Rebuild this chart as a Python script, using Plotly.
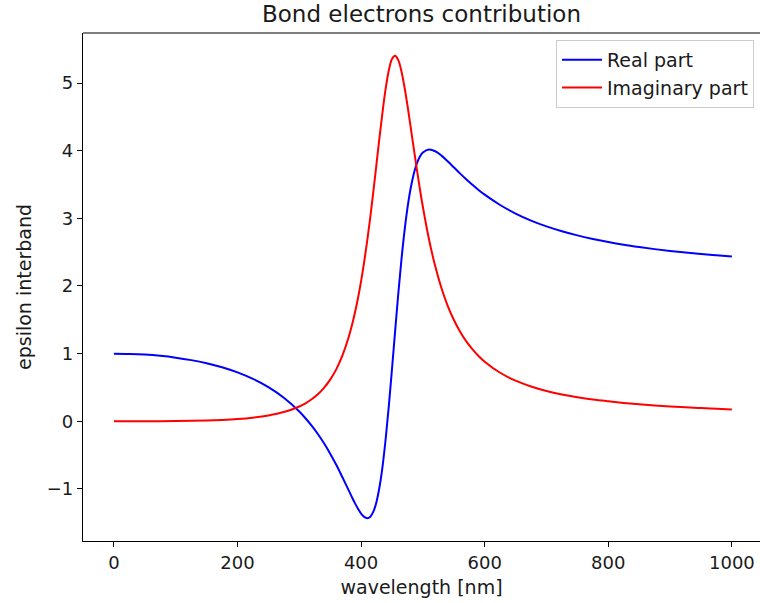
import plotly.graph_objects as go

# wavelength samples [nm]
wavelength = [0, 25, 50, 75, 100, 125, 150, 175, 200, 225, 250, 275, 300,
              310, 320, 330, 340, 350, 360, 370, 380, 385, 390, 395, 400, 405, 410,
              415, 420, 425, 430, 435, 440, 445, 450, 455, 460, 465, 470, 475, 480,
              485, 490, 495, 500, 510, 520, 530, 540, 550, 560, 570, 580, 590, 600,
              625, 650, 675, 700, 725, 750, 775, 800, 825, 850, 875, 900, 925, 950,
              975, 1000]

real_part = [1.0, 0.996, 0.986, 0.967, 0.940, 0.904, 0.858, 0.798, 0.722, 0.626, 0.504,
             0.347, 0.144,
             0.045, -0.065, -0.188, -0.326, -0.479, -0.647, -0.832, -1.022, -1.118,
             -1.210, -1.293, -1.364, -1.413, -1.432,
             -1.410, -1.333, -1.188, -0.961, -0.647, -0.240, 0.239, 0.773, 1.326,
             1.867, 2.361, 2.794, 3.150, 3.433,
             3.648, 3.804, 3.909, 3.974, 4.019, 3.992, 3.927, 3.844, 3.755, 3.665,
             3.579, 3.498, 3.420, 3.350,
             3.197, 3.071, 2.967, 2.881, 2.809, 2.748, 2.696, 2.650, 2.610, 2.576,
             2.545, 2.518, 2.494, 2.472, 2.453, 2.435]

imag_part = [0.0, 0.0, 0.0004, 0.0012, 0.003, 0.006, 0.011, 0.020, 0.033, 0.053, 0.085,
             0.136, 0.219,
             0.266, 0.325, 0.399, 0.494, 0.615, 0.771, 0.977, 1.246, 1.413, 1.604,
             1.822, 2.072, 2.356, 2.674,
             3.027, 3.409, 3.810, 4.213, 4.594, 4.932, 5.193, 5.355, 5.403, 5.343,
             5.186, 4.952, 4.672, 4.363,
             4.048, 3.739, 3.443, 3.167, 2.684, 2.291, 1.971, 1.711, 1.501, 1.328,
             1.185, 1.067, 0.966, 0.881,
             0.717, 0.600, 0.514, 0.448, 0.397, 0.356, 0.322, 0.295, 0.271, 0.251,
             0.234, 0.219, 0.206, 0.195, 0.185, 0.175]

x_ticks = [0, 200, 400, 600, 800, 1000]
y_ticks = [-1, 0, 1, 2, 3, 4, 5]

FONT = "DejaVu Sans"

fig = go.Figure()
fig.add_trace(go.Scatter(x=wavelength, y=real_part, mode="lines", name="Real part",
                         line=dict(color="#0000ff", width=2, shape="spline", smoothing=1)))
fig.add_trace(go.Scatter(x=wavelength, y=imag_part, mode="lines", name="Imaginary part",
                         line=dict(color="#ff0000", width=2, shape="spline", smoothing=1)))

axis_common = dict(
    showgrid=False, zeroline=False, showline=True, linecolor="black", linewidth=1.2,
    ticks="outside", ticklen=5, tickwidth=1.2, tickcolor="black",
    tickfont=dict(family=FONT, size=18, color="#1a1a1a"), mirror=False,
)

fig.update_layout(
    width=760, height=603,
    margin=dict(l=83, r=0, t=33, b=62),
    paper_bgcolor="white", plot_bgcolor="white",
    title=dict(text="Bond electrons contribution", x=0.5, xref="paper", xanchor="center",
               y=1 - 14 / 603, yanchor="middle",
               font=dict(family=FONT, size=23, color="#1a1a1a")),
    xaxis=dict(range=[-50, 1045.5], tickvals=x_ticks,
               title=dict(text="wavelength [nm]", font=dict(family=FONT, size=19, color="#1a1a1a"),
                          standoff=8),
               **axis_common),
    yaxis=dict(range=[-1.77, 5.74], tickvals=y_ticks,
               title=dict(text="epsilon interband", font=dict(family=FONT, size=19, color="#1a1a1a"),
                          standoff=10),
               **axis_common),
    legend=dict(x=(754 - 83) / 677, xanchor="right", y=(541 - 40) / 508, yanchor="top",
                bgcolor="white", bordercolor="#cccccc", borderwidth=1,
                font=dict(family=FONT, size=19, color="#1a1a1a"),
                itemwidth=40),
    shapes=[dict(type="line", xref="paper", yref="paper", x0=0, x1=1, y0=1, y1=1,
                 line=dict(color="black", width=1.2))],
)

fig.write_html("out.html")
